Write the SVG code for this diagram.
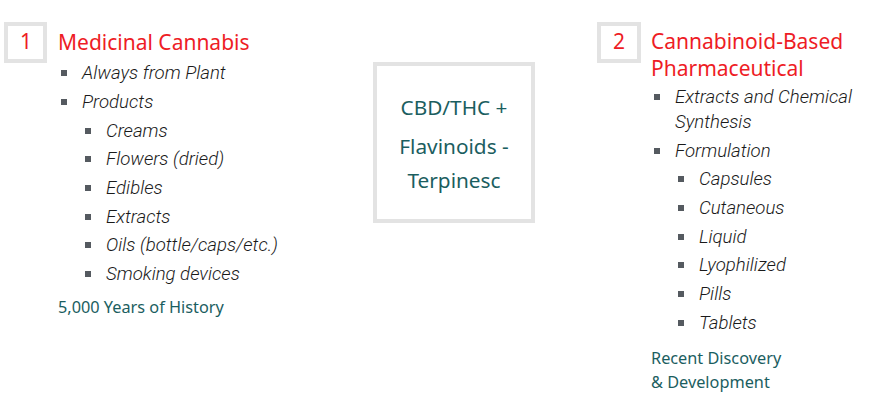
<svg xmlns="http://www.w3.org/2000/svg" width="870" height="405" viewBox="0 0 870 405">
<style>
.box{fill:#fff;stroke:#e3e3e3;stroke-width:4}
.num{font-family:"Noto Sans","Open Sans",sans-serif;font-size:21px;fill:#ee1c25;text-anchor:middle}
.title{font-family:"Noto Sans","Open Sans",sans-serif;font-size:21px;fill:#ee1c25}
.item{font-family:Roboto,"Liberation Sans",sans-serif;font-size:18.6px;font-style:italic;font-weight:300;fill:#1a1a1a}
.note{font-family:"Noto Sans","Open Sans",sans-serif;font-size:16.3px;fill:#1b5e5f}
.mid{font-family:"Noto Sans","Open Sans",sans-serif;font-size:20.8px;fill:#1b5e5f;text-anchor:middle}
.b{fill:#555a60}
</style>
<g id="node1">
<rect class="box" x="6" y="24" width="39" height="37"/>
<text class="num" x="26" y="49">1</text>
<text class="title" x="58" y="50">Medicinal Cannabis</text>
<rect class="b" x="61" y="70" width="6" height="6"/><text class="item" x="82" y="79">Always from Plant</text>
<rect class="b" x="61" y="99" width="6" height="6"/><text class="item" x="82" y="108">Products</text>
<rect class="b" x="85" y="128" width="6" height="6"/><text class="item" x="106" y="137">Creams</text>
<rect class="b" x="85" y="156" width="6" height="6"/><text class="item" x="106" y="165">Flowers (dried)</text>
<rect class="b" x="85" y="185" width="6" height="6"/><text class="item" x="106" y="194">Edibles</text>
<rect class="b" x="85" y="214" width="6" height="6"/><text class="item" x="106" y="223">Extracts</text>
<rect class="b" x="85" y="242" width="6" height="6"/><text class="item" x="106" y="251">Oils (bottle/caps/etc.)</text>
<rect class="b" x="85" y="271" width="6" height="6"/><text class="item" x="106" y="280">Smoking devices</text>
<text class="note" x="58" y="313">5,000 Years of History</text>
</g>
<g id="center">
<rect class="box" x="375" y="64" width="158" height="157"/>
<text class="mid" x="454" y="115">CBD/THC +</text>
<text class="mid" x="454" y="154">Flavinoids -</text>
<text class="mid" x="454" y="188">Terpinesc</text>
</g>
<g id="node2">
<rect class="box" x="599" y="24" width="40" height="37"/>
<text class="num" x="619" y="49">2</text>
<text class="title" x="651" y="49">Cannabinoid-Based</text>
<text class="title" x="651" y="76">Pharmaceutical</text>
<rect class="b" x="654" y="94" width="6" height="6"/><text class="item" x="675" y="103">Extracts and Chemical</text>
<text class="item" x="675" y="128">Synthesis</text>
<rect class="b" x="654" y="148" width="6" height="6"/><text class="item" x="675" y="157">Formulation</text>
<rect class="b" x="678" y="176" width="6" height="6"/><text class="item" x="699" y="185">Capsules</text>
<rect class="b" x="678" y="205" width="6" height="6"/><text class="item" x="699" y="214">Cutaneous</text>
<rect class="b" x="678" y="234" width="6" height="6"/><text class="item" x="699" y="243">Liquid</text>
<rect class="b" x="678" y="262" width="6" height="6"/><text class="item" x="699" y="271">Lyophilized</text>
<rect class="b" x="678" y="291" width="6" height="6"/><text class="item" x="699" y="300">Pills</text>
<rect class="b" x="678" y="320" width="6" height="6"/><text class="item" x="699" y="329">Tablets</text>
<text class="note" x="651" y="364">Recent Discovery</text>
<text class="note" x="651" y="388">&amp; Development</text>
</g>
<g id="connectors"></g>
</svg>
